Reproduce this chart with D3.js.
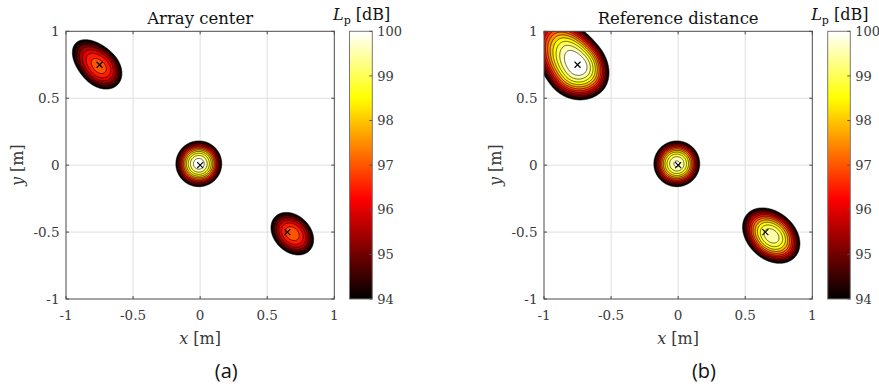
<!DOCTYPE html>
<html>
<head>
<meta charset="utf-8">
<script src="https://cdn.jsdelivr.net/npm/d3@7"></script>
<style>
  html, body { margin: 0; padding: 0; background: #fff; }
  svg { display: block; }
  .tick-label { font-family: "DejaVu Serif", serif; font-size: 13.5px; fill: #3a3a3a; }
  .cb-label { font-family: "DejaVu Serif", serif; font-size: 13px; fill: #3a3a3a; }
  .axis-label { font-family: "DejaVu Serif", serif; font-size: 16px; fill: #3a3a3a; }
  .title { font-family: "DejaVu Serif", serif; font-size: 16.5px; fill: #111; }
  .tag { font-family: "Open Sans", sans-serif; font-size: 20px; fill: #111; }
</style>
</head>
<body>
<svg id="chart" width="879" height="389"></svg>
<script>
// ---- data -------------------------------------------------------------
const panelTitles = ["Array center", "Reference distance"];
const panelTags = ["(a)", "(b)"];
const axisTicks = [-1, -0.5, 0, 0.5, 1];
const axisTickLabels = ["-1", "-0.5", "0", "0.5", "1"];
const gridTicks = [-0.5, 0, 0.5];
const colorTicks = [94, 95, 96, 97, 98, 99, 100];
const colorRange = [94, 100];
const contourLevels = [94, 94.5, 95, 95.5, 96, 96.5, 97, 97.5, 98, 98.5, 99, 99.5, 100];

// source positions (x markers) in metres
const sourceX = [-0.75, 0, 0.65];
const sourceY = [0.75, 0, -0.5];

// panel (a): sound pressure level lobes per source
const peakXA = [-0.75, -0.01, 0.687];
const peakYA = [0.735, 0.01, -0.512];
const peakLevelA = [97.3, 100.35, 97.35];
const tiltA = [-45, 0, -45];          // orientation of the long axis, degrees
const reachFwdA = [0.19, 0.171, 0.18];  // half-width along long axis, towards origin
const reachBackA = [0.25, 0.171, 0.18]; // half-width along long axis, away from origin
const reachLeftA = [0.14, 0.171, 0.135];
const reachRightA = [0.14, 0.171, 0.135];

// panel (b)
const peakXB = [-0.75, -0.01, 0.697];
const peakYB = [0.75, 0.01, -0.529];
const peakLevelB = [100.6, 100.1, 99.9];
const tiltB = [-52, 0, -42];
const reachFwdB = [0.27, 0.171, 0.235];
const reachBackB = [0.42, 0.171, 0.245];
const reachLeftB = [0.21, 0.171, 0.176];
const reachRightB = [0.25, 0.171, 0.176];

// ---- helpers ----------------------------------------------------------
// MATLAB-style "hot" colour map
function hot(t) {
  t = Math.max(0, Math.min(1, t));
  const r = Math.min(1, t / 0.375);
  const g = Math.max(0, Math.min(1, (t - 0.375) / 0.375));
  const b = Math.max(0, Math.min(1, (t - 0.75) / 0.25));
  return d3.rgb(r * 255, g * 255, b * 255).formatHex();
}
const color = d3.scaleSequential(hot).domain(colorRange);

function lobeField(px, py, peak, tilt, fwd, back, left, right) {
  return (x, y) => {
    let best = -Infinity;
    for (let k = 0; k < px.length; k++) {
      const th = tilt[k] * Math.PI / 180;
      const dx = x - px[k], dy = y - py[k];
      const u = dx * Math.cos(th) + dy * Math.sin(th);
      const v = -dx * Math.sin(th) + dy * Math.cos(th);
      const a = u >= 0 ? fwd[k] : back[k];
      const b = v >= 0 ? left[k] : right[k];
      const rho2 = (u / a) * (u / a) + (v / b) * (v / b);
      const L = peak[k] - (peak[k] - colorRange[0]) * rho2;
      if (L > best) best = L;
    }
    return best;
  };
}

const panels = [
  { left: 66, right: 334.3, cbLeft: 349.5, cbRight: 372.3, tagX: 226.2,
    field: lobeField(peakXA, peakYA, peakLevelA, tiltA, reachFwdA, reachBackA, reachLeftA, reachRightA) },
  { left: 544, right: 812.3, cbLeft: 827.7, cbRight: 850.3, tagX: 704,
    field: lobeField(peakXB, peakYB, peakLevelB, tiltB, reachFwdB, reachBackB, reachLeftB, reachRightB) }
];
const plotTop = 31.3, plotBottom = 299;

const svg = d3.select("#chart");
const defs = svg.append("defs");

// colour bar gradient
const grad = defs.append("linearGradient").attr("id", "hotbar")
  .attr("x1", 0).attr("y1", 1).attr("x2", 0).attr("y2", 0);
d3.range(0, 1.0001, 1 / 48).forEach(t => {
  grad.append("stop").attr("offset", t)
    .attr("stop-color", color(colorRange[0] + t * (colorRange[1] - colorRange[0])));
});

const N = 440, E = 1.1, step = 2 * E / N;
const boxColor = "#4a4a4a";

panels.forEach((p, idx) => {
  const x = d3.scaleLinear([-1, 1], [p.left, p.right]);
  const y = d3.scaleLinear([-1, 1], [plotBottom, plotTop]);
  const g = svg.append("g");

  const clipId = "clip" + idx;
  defs.append("clipPath").attr("id", clipId).append("rect")
    .attr("x", p.left).attr("y", plotTop)
    .attr("width", p.right - p.left).attr("height", plotBottom - plotTop);

  // grid
  g.append("g").selectAll("line").data(gridTicks).join("line")
    .attr("x1", d => x(d)).attr("x2", d => x(d))
    .attr("y1", plotTop).attr("y2", plotBottom)
    .attr("stroke", "#dedede").attr("stroke-width", 1);
  g.append("g").selectAll("line").data(gridTicks).join("line")
    .attr("y1", d => y(d)).attr("y2", d => y(d))
    .attr("x1", p.left).attr("x2", p.right)
    .attr("stroke", "#dedede").attr("stroke-width", 1);

  // sampled level field
  const values = new Float64Array(N * N);
  for (let j = 0; j < N; j++) {
    const yy = E - (j + 0.5) * step;
    for (let i = 0; i < N; i++) {
      values[j * N + i] = p.field(-E + (i + 0.5) * step, yy);
    }
  }
  const contours = d3.contours().size([N, N]).thresholds(contourLevels)(values);
  const proj = d3.geoTransform({
    point(px, py) { this.stream.point(x(-E + px * step), y(E - py * step)); }
  });
  const path = d3.geoPath(proj);

  g.append("g").attr("clip-path", `url(#${clipId})`)
    .selectAll("path").data(contours).join("path")
    .attr("d", path)
    .attr("fill", d => color(d.value))
    .attr("stroke", "#000")
    .attr("stroke-width", 0.6)
    .attr("stroke-linejoin", "round");

  // source markers
  const mk = g.append("g").selectAll("g").data(sourceX.map((sx, k) => [sx, sourceY[k]])).join("g")
    .attr("transform", d => `translate(${x(d[0])},${y(d[1])})`);
  mk.append("path").attr("d", "M-3,-3L3,3M-3,3L3,-3")
    .attr("stroke", "#000").attr("stroke-width", 1.1);

  // axes box and ticks (inward, mirrored)
  g.append("rect").attr("x", p.left).attr("y", plotTop)
    .attr("width", p.right - p.left).attr("height", plotBottom - plotTop)
    .attr("fill", "none").attr("stroke", boxColor).attr("stroke-width", 1);
  const tl = 3;
  const tk = g.append("g").attr("stroke", boxColor).attr("stroke-width", 1);
  axisTicks.forEach(t => {
    tk.append("line").attr("x1", x(t)).attr("x2", x(t)).attr("y1", plotBottom).attr("y2", plotBottom - tl);
    tk.append("line").attr("x1", x(t)).attr("x2", x(t)).attr("y1", plotTop).attr("y2", plotTop + tl);
    tk.append("line").attr("y1", y(t)).attr("y2", y(t)).attr("x1", p.left).attr("x2", p.left + tl);
    tk.append("line").attr("y1", y(t)).attr("y2", y(t)).attr("x1", p.right).attr("x2", p.right - tl);
  });

  // tick labels
  g.append("g").selectAll("text").data(axisTicks).join("text")
    .attr("class", "tick-label").attr("text-anchor", "middle")
    .attr("x", d => x(d)).attr("y", 320)
    .text((d, k) => axisTickLabels[k]);
  g.append("g").selectAll("text").data(axisTicks).join("text")
    .attr("class", "tick-label").attr("text-anchor", "end")
    .attr("x", p.left - 6.5).attr("y", d => y(d)).attr("dy", "0.36em")
    .text((d, k) => axisTickLabels[k]);

  // axis labels
  const xl = g.append("text").attr("class", "axis-label").attr("text-anchor", "middle")
    .attr("x", (p.left + p.right) / 2).attr("y", 344);
  xl.append("tspan").attr("font-style", "italic").text("x");
  xl.append("tspan").text(" [m]");
  const yl = g.append("text").attr("class", "axis-label").attr("text-anchor", "middle")
    .attr("transform", `translate(${p.left - 43},${(plotTop + plotBottom) / 2}) rotate(-90)`);
  yl.append("tspan").attr("font-style", "italic").text("y");
  yl.append("tspan").text(" [m]");

  // title
  g.append("text").attr("class", "title").attr("text-anchor", "middle")
    .attr("x", (p.left + p.right) / 2).attr("y", 23.5).text(panelTitles[idx]);

  // colour bar
  const cb = d3.scaleLinear(colorRange, [plotBottom, plotTop]);
  g.append("rect").attr("x", p.cbLeft).attr("y", plotTop)
    .attr("width", p.cbRight - p.cbLeft).attr("height", plotBottom - plotTop)
    .attr("fill", "url(#hotbar)").attr("stroke", "#777").attr("stroke-width", 1);
  g.append("g").selectAll("line").data(colorTicks).join("line")
    .attr("x1", p.cbRight).attr("x2", p.cbRight - 3)
    .attr("y1", d => cb(d)).attr("y2", d => cb(d))
    .attr("stroke", "#555").attr("stroke-width", 1);
  g.append("g").selectAll("text").data(colorTicks).join("text")
    .attr("class", "cb-label")
    .attr("x", p.cbRight + 5).attr("y", d => cb(d)).attr("dy", "0.36em")
    .text(d => d);
  const ct = g.append("text").attr("class", "title").style("font-size", "16px")
    .attr("x", p.cbLeft - 16.5).attr("y", 20);
  ct.append("tspan").attr("font-style", "italic").text("L");
  ct.append("tspan").attr("font-size", "11px").attr("dy", 4).text("p");
  ct.append("tspan").attr("dy", -4).text(" [dB]");

  // panel tag
  g.append("text").attr("class", "tag").attr("text-anchor", "middle")
    .attr("x", p.tagX).attr("y", 378).text(panelTags[idx]);
});
</script>
</body>
</html>
